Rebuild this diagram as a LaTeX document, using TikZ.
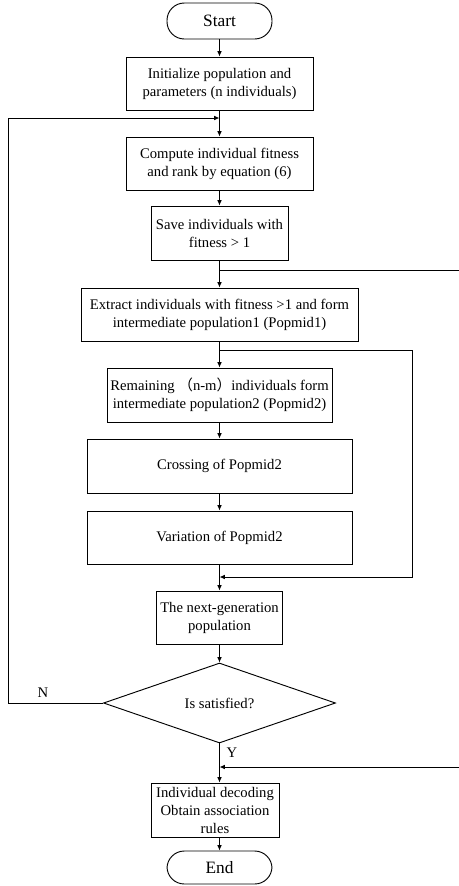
\documentclass[tikz,border=0pt]{standalone}
\usepackage{fontspec}
\setmainfont{Liberation Serif}
\newfontfamily\cjk{Noto Sans CJK SC}
\usetikzlibrary{arrows.meta,shapes.geometric}
\begin{document}
\begin{tikzpicture}[x=0.75pt,y=-0.75pt,
  box/.style={draw,line width=0.7pt,align=center,inner sep=1pt,font=\fontsize{11}{13.5}\selectfont,minimum height=40pt},
  term/.style={draw,line width=0.7pt,rounded corners=13pt,minimum width=78.75pt,inner sep=1pt,font=\fontsize{13}{14}\selectfont},
  dec/.style={draw,line width=0.7pt,diamond,aspect=2.9,minimum width=174pt,minimum height=60pt,inner sep=0pt,font=\fontsize{11}{13}\selectfont},
  conn/.style={line width=0.7pt},
  arr/.style={conn,-{Latex[length=4pt,width=3.5pt]}},
  lab/.style={font=\fontsize{11}{13}\selectfont}]
\useasboundingbox (0,0) rectangle (459,886);
\node[term,minimum height=27pt] (start) at (219.5,21) {Start};
\node[box,minimum width=140.25pt,minimum height=39.75pt] (init) at (219.5,83.5) {Initialize population and\\parameters (n individuals)};
\node[box,minimum width=140.25pt,minimum height=39.75pt] (comp) at (219.5,163.5) {Compute individual fitness\\and rank by equation (6)};
\node[box,minimum width=102.75pt,minimum height=40.5pt] (save) at (219.5,233) {Save individuals with\\fitness > 1};
\node[box,minimum width=207.75pt,minimum height=39.75pt] (extr) at (219.5,314.5) {Extract individuals with fitness >1 and form\\intermediate population1 (Popmid1)};
\node[box,minimum width=168.75pt,minimum height=40.5pt] (rem) at (219.5,395) {Remaining {\cjk （}n-m{\cjk ）}individuals form\\intermediate population2 (Popmid2)};
\node[box,minimum width=198.75pt,minimum height=40.5pt] (cross) at (219.5,466) {Crossing of Popmid2};
\node[box,minimum width=198.75pt,minimum height=39.75pt] (var) at (219.5,537.5) {Variation of Popmid2};
\node[box,minimum width=94.5pt,minimum height=39.75pt] (next) at (219.5,617.5) {The next-generation\\population};
\node[dec] (dec) at (219.5,703) {Is satisfied?};
\node[box,minimum width=96pt,minimum height=40.5pt] (ind) at (215,810) {Individual decoding\\Obtain association\\rules};
\node[term,minimum height=24.75pt] (end) at (219.5,867.5) {End};
\node[lab] (nlab) at (43,693) {N};
\node[lab] (ylab) at (232,753) {Y};
\coordinate (loopL1) at (8,703);
\coordinate (loopL2) at (8,118);
\coordinate (loopin) at (219.5,118);
\coordinate (b1) at (219.5,270);
\coordinate (b1r) at (459,270);
\coordinate (b2) at (219.5,350);
\coordinate (b2r) at (412,350);
\coordinate (b2d) at (412,577);
\coordinate (b2in) at (219.5,577);
\coordinate (b3r) at (459,767);
\coordinate (b3in) at (219.5,767);
\draw[arr] (start) -- (init);
\draw[arr] (init) -- (comp);
\draw[arr] (dec.west) -- (loopL1) -- (loopL2) -- (loopin);
\draw[arr] (comp) -- (save);
\draw[arr] (save) -- (extr);
\draw[conn] (b1) -- (b1r);
\draw[arr] (extr) -- (rem);
\draw[arr] (b2) -- (b2r) -- (b2d) -- (b2in);
\draw[arr] (rem) -- (cross);
\draw[arr] (cross) -- (var);
\draw[arr] (var) -- (next);
\draw[arr] (next) -- (dec);
\draw[arr] (dec.south) -- (dec.south |- ind.north);
\draw[arr] (b3r) -- (b3in);
\draw[arr] (ind.south -| end.north) -- (end);
\end{tikzpicture}
\end{document}
